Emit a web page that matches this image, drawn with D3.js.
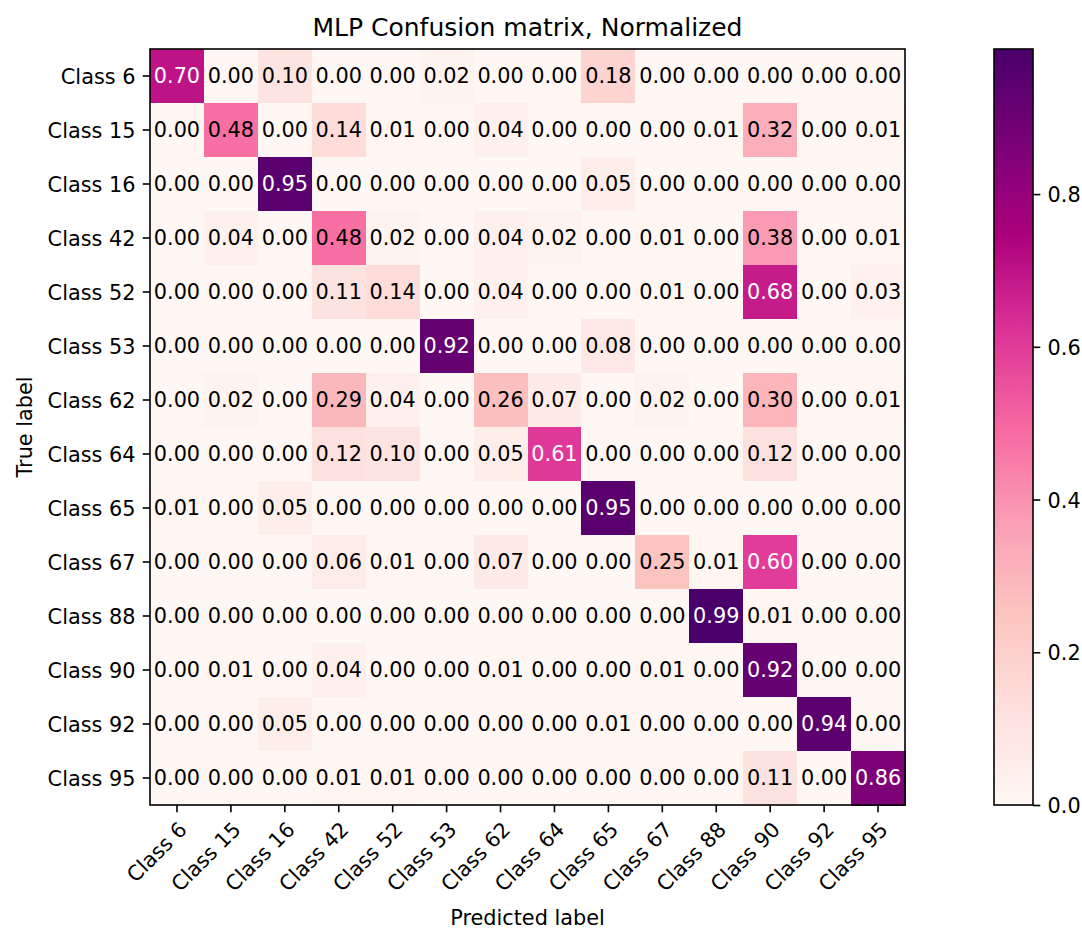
<!DOCTYPE html>
<html>
<head>
<meta charset="utf-8">
<script src="https://cdn.jsdelivr.net/npm/d3@7"></script>
<style>
  body { margin: 0; background: #fff; }
  text { font-family: "DejaVu Sans", sans-serif; fill: #000; }
</style>
</head>
<body>
<div id="wrapper"></div>
<script>
// Dados
const classes = ["Class 6", "Class 15", "Class 16", "Class 42", "Class 52", "Class 53", "Class 62",
  "Class 64", "Class 65", "Class 67", "Class 88", "Class 90", "Class 92", "Class 95"];

// linhas = rótulo verdadeiro, colunas = rótulo previsto
const matrix = [
  [0.70, 0.00, 0.10, 0.00, 0.00, 0.02, 0.00, 0.00, 0.18, 0.00, 0.00, 0.00, 0.00, 0.00],
  [0.00, 0.48, 0.00, 0.14, 0.01, 0.00, 0.04, 0.00, 0.00, 0.00, 0.01, 0.32, 0.00, 0.01],
  [0.00, 0.00, 0.95, 0.00, 0.00, 0.00, 0.00, 0.00, 0.05, 0.00, 0.00, 0.00, 0.00, 0.00],
  [0.00, 0.04, 0.00, 0.48, 0.02, 0.00, 0.04, 0.02, 0.00, 0.01, 0.00, 0.38, 0.00, 0.01],
  [0.00, 0.00, 0.00, 0.11, 0.14, 0.00, 0.04, 0.00, 0.00, 0.01, 0.00, 0.68, 0.00, 0.03],
  [0.00, 0.00, 0.00, 0.00, 0.00, 0.92, 0.00, 0.00, 0.08, 0.00, 0.00, 0.00, 0.00, 0.00],
  [0.00, 0.02, 0.00, 0.29, 0.04, 0.00, 0.26, 0.07, 0.00, 0.02, 0.00, 0.30, 0.00, 0.01],
  [0.00, 0.00, 0.00, 0.12, 0.10, 0.00, 0.05, 0.61, 0.00, 0.00, 0.00, 0.12, 0.00, 0.00],
  [0.01, 0.00, 0.05, 0.00, 0.00, 0.00, 0.00, 0.00, 0.95, 0.00, 0.00, 0.00, 0.00, 0.00],
  [0.00, 0.00, 0.00, 0.06, 0.01, 0.00, 0.07, 0.00, 0.00, 0.25, 0.01, 0.60, 0.00, 0.00],
  [0.00, 0.00, 0.00, 0.00, 0.00, 0.00, 0.00, 0.00, 0.00, 0.00, 0.99, 0.01, 0.00, 0.00],
  [0.00, 0.01, 0.00, 0.04, 0.00, 0.00, 0.01, 0.00, 0.00, 0.01, 0.00, 0.92, 0.00, 0.00],
  [0.00, 0.00, 0.05, 0.00, 0.00, 0.00, 0.00, 0.00, 0.01, 0.00, 0.00, 0.00, 0.94, 0.00],
  [0.00, 0.00, 0.00, 0.01, 0.01, 0.00, 0.00, 0.00, 0.00, 0.00, 0.00, 0.11, 0.00, 0.86]
];

const colorbarTicks = [0, 0.2, 0.4, 0.6, 0.8];

// paleta RdPu (ColorBrewer, 9 classes)
const rdpu = ["#fff7f3", "#fde0dd", "#fcc5c0", "#fa9fb5", "#f768a1", "#dd3497", "#ae017e", "#7a0177", "#49006a"];

function draw() {
  const dimensions = {
    width: 1082,
    height: 929,
    fontSize: 20.8,
    tickLen: 7.3,
    tickPad: 7.3,
    plot: { left: 150, top: 49, right: 905, bottom: 805 },
    cbar: { left: 994, right: 1033 }
  };
  const p = dimensions.plot;

  const svg = d3.select("#wrapper")
    .append("svg")
    .attr("width", dimensions.width)
    .attr("height", dimensions.height);

  // Escalas
  const x = d3.scaleBand().domain(classes).range([p.left, p.right]);
  const y = d3.scaleBand().domain(classes).range([p.top, p.bottom]);
  const vmax = d3.max(matrix.flat());
  const color = d3.scaleLinear()
    .domain(rdpu.map((d, i) => vmax * i / (rdpu.length - 1)))
    .range(rdpu);
  const thresh = vmax / 2;

  const cells = classes.flatMap((row, i) => classes.map((col, j) => ({ row, col, v: matrix[i][j] })));

  // Células
  svg.append("g")
    .selectAll("rect")
    .data(cells)
    .enter()
    .append("rect")
    .attr("x", d => x(d.col))
    .attr("y", d => y(d.row))
    .attr("width", x.bandwidth() + 0.5)
    .attr("height", y.bandwidth() + 0.5)
    .attr("fill", d => color(d.v))
    .attr("shape-rendering", "crispEdges");

  svg.append("g")
    .selectAll("text")
    .data(cells)
    .enter()
    .append("text")
    .attr("x", d => x(d.col) + x.bandwidth() / 2)
    .attr("y", d => y(d.row) + y.bandwidth() / 2)
    .attr("dy", "0.36em")
    .attr("text-anchor", "middle")
    .style("font-size", dimensions.fontSize + "px")
    .style("fill", d => d.v > thresh ? "#fff" : "#000")
    .text(d => d.v.toFixed(2));

  // Eixos
  const yAxis = svg.append("g")
    .attr("transform", "translate(" + p.left + ",0)")
    .call(d3.axisLeft(y).tickSizeOuter(0).tickSize(dimensions.tickLen).tickPadding(dimensions.tickPad));
  yAxis.select(".domain").remove();
  yAxis.selectAll("text")
    .attr("dy", "0.36em")
    .style("font-size", dimensions.fontSize + "px")
    .attr("font-family", null);

  const asc = 0.76 * dimensions.fontSize * Math.SQRT1_2;
  const xAxis = svg.append("g")
    .attr("transform", "translate(0," + p.bottom + ")")
    .call(d3.axisBottom(x).tickSizeOuter(0).tickSize(dimensions.tickLen));
  xAxis.select(".domain").remove();
  xAxis.selectAll("text")
    .attr("y", null)
    .attr("dy", null)
    .attr("text-anchor", "end")
    .attr("transform", "translate(" + asc + "," + (dimensions.tickLen + dimensions.tickPad + asc) + ") rotate(-45)")
    .style("font-size", dimensions.fontSize + "px")
    .attr("font-family", null);

  svg.selectAll(".tick line").attr("stroke", "#000").attr("stroke-width", 1.6);

  // Moldura
  svg.append("rect")
    .attr("x", p.left)
    .attr("y", p.top)
    .attr("width", p.right - p.left)
    .attr("height", p.bottom - p.top)
    .attr("fill", "none")
    .attr("stroke", "#000")
    .attr("stroke-width", 1.6);

  // Títulos
  svg.append("text")
    .attr("x", (p.left + p.right) / 2)
    .attr("y", 36)
    .attr("text-anchor", "middle")
    .style("font-size", "25px")
    .text("MLP Confusion matrix, Normalized");

  svg.append("text")
    .attr("x", (p.left + p.right) / 2)
    .attr("y", 925)
    .attr("text-anchor", "middle")
    .style("font-size", dimensions.fontSize + "px")
    .text("Predicted label");

  svg.append("text")
    .attr("transform", "translate(32," + (p.top + p.bottom) / 2 + ") rotate(-90)")
    .attr("text-anchor", "middle")
    .style("font-size", dimensions.fontSize + "px")
    .text("True label");

  // Barra de cores
  const c = dimensions.cbar;
  const cScale = d3.scaleLinear().domain([0, vmax]).range([p.bottom, p.top]);
  const grad = svg.append("defs")
    .append("linearGradient")
    .attr("id", "cbar-grad")
    .attr("x1", 0).attr("y1", 1).attr("x2", 0).attr("y2", 0);
  grad.selectAll("stop")
    .data(color.domain())
    .enter()
    .append("stop")
    .attr("offset", d => d / vmax)
    .attr("stop-color", d => color(d));

  svg.append("rect")
    .attr("x", c.left)
    .attr("y", p.top)
    .attr("width", c.right - c.left)
    .attr("height", p.bottom - p.top)
    .attr("fill", "url(#cbar-grad)")
    .attr("stroke", "#000")
    .attr("stroke-width", 1.6);

  const cAxis = svg.append("g")
    .attr("transform", "translate(" + c.right + ",0)")
    .call(d3.axisRight(cScale)
      .tickValues(colorbarTicks)
      .tickFormat(d3.format(".1f"))
      .tickSizeOuter(0)
      .tickSize(dimensions.tickLen)
      .tickPadding(dimensions.tickPad));
  cAxis.select(".domain").remove();
  cAxis.selectAll("line").attr("stroke", "#000").attr("stroke-width", 1.6);
  cAxis.selectAll("text")
    .attr("dy", "0.36em")
    .style("font-size", dimensions.fontSize + "px")
    .attr("font-family", null);
}
draw();
</script>
</body>
</html>
